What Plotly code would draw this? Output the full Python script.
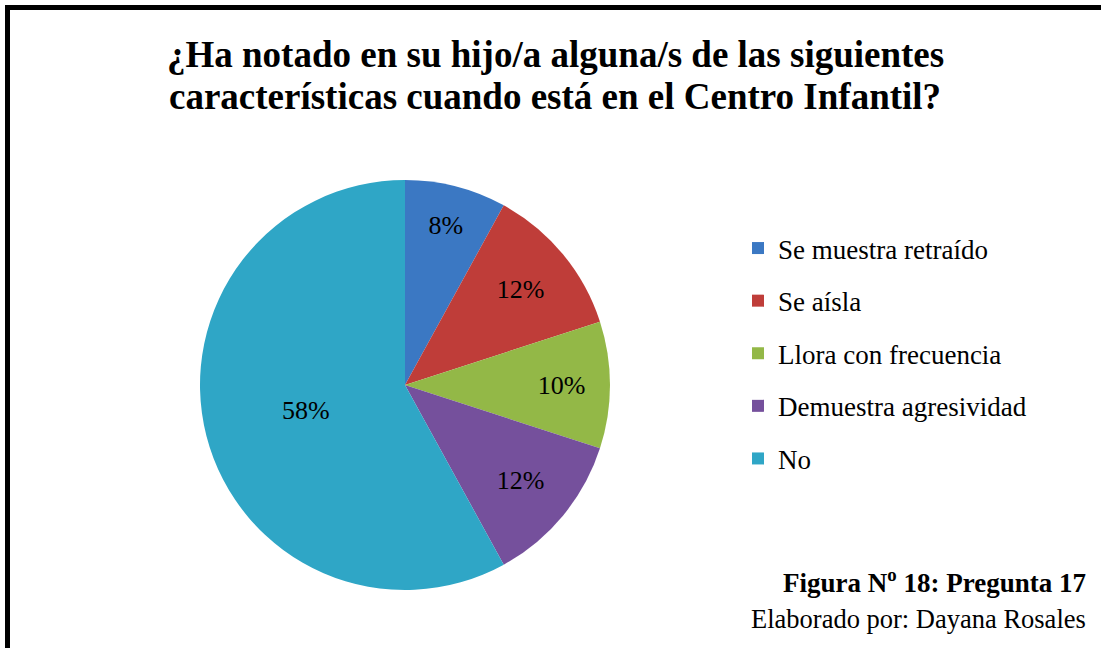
import plotly.graph_objects as go

labels = ["Se muestra retraído", "Se aísla", "Llora con frecuencia", "Demuestra agresividad", "No"]
values = [8, 12, 10, 12, 58]
colors = ["#3b78c3", "#bf3d39", "#93b847", "#75509c", "#2fa6c6"]
title_lines = ["¿Ha notado en su hijo/a alguna/s de las siguientes",
               "características cuando está en el Centro Infantil?"]
figure_label = "Figura N<sup>o</sup> 18: Pregunta 17"
credit = "Elaborado por: Dayana Rosales"

W, H = 1101, 648
SERIF = "Liberation Serif, Times New Roman, serif"


def px(x):
    return x / W


def py(y):
    return 1 - y / H


fig = go.Figure()
fig.add_trace(go.Pie(
    labels=labels, values=values, sort=False, direction="clockwise", rotation=0,
    marker=dict(colors=colors, line=dict(color="white", width=0)),
    texttemplate="%{value}%", textposition="inside",
    insidetextorientation="horizontal",
    textfont=dict(family=SERIF, size=26, color="black"),
    domain=dict(x=[px(200), px(610)], y=[py(590), py(180)]),
    showlegend=False, hoverinfo="label+percent",
))

# legend entries (one group each so spacing can match the reference)
for lab, col in zip(labels, colors):
    fig.add_trace(go.Scatter(
        x=[None], y=[None], mode="markers", name=lab, legendgroup=lab,
        marker=dict(symbol="square", size=14, color=col),
        showlegend=True,
    ))

annotations = []
for i, line in enumerate(title_lines):
    annotations.append(dict(
        text="<b>" + line + "</b>", xref="paper", yref="paper",
        x=px(555), y=py(54 + 42 * i), xanchor="center", yanchor="middle", showarrow=False,
        font=dict(family=SERIF, size=37, color="black")))
annotations += [
    dict(text="<b>" + figure_label + "</b>", xref="paper", yref="paper",
         x=px(1088), y=py(581), xanchor="right", yanchor="middle", showarrow=False,
         font=dict(family=SERIF, size=27, color="black")),
    dict(text=credit, xref="paper", yref="paper",
         x=px(1088), y=py(619), xanchor="right", yanchor="middle", showarrow=False,
         font=dict(family=SERIF, size=26.5, color="black")),
]

fig.update_layout(
    width=W, height=H, margin=dict(l=0, r=0, t=0, b=0),
    paper_bgcolor="white", plot_bgcolor="white",
    font=dict(family=SERIF, color="black"),
    uniformtext=dict(minsize=26, mode="show"),
    xaxis=dict(visible=False), yaxis=dict(visible=False),
    legend=dict(
        x=px(738), xanchor="left", y=py(224), yanchor="top",
        font=dict(family=SERIF, size=27, color="black"),
        tracegroupgap=14.5, itemsizing="constant", traceorder="grouped",
        bgcolor="rgba(0,0,0,0)",
    ),
    annotations=annotations,
    shapes=[
        dict(type="line", xref="paper", yref="paper", x0=px(5), x1=1.0, y0=py(7.5), y1=py(7.5),
             line=dict(color="black", width=5)),
        dict(type="line", xref="paper", yref="paper", x0=px(7.5), x1=px(7.5), y0=py(5), y1=0,
             line=dict(color="black", width=5)),
    ],
)

fig.write_html("out.html", config={"displayModeBar": False},
               post_script="document.body.style.margin='0px';document.body.style.overflow='hidden';")
